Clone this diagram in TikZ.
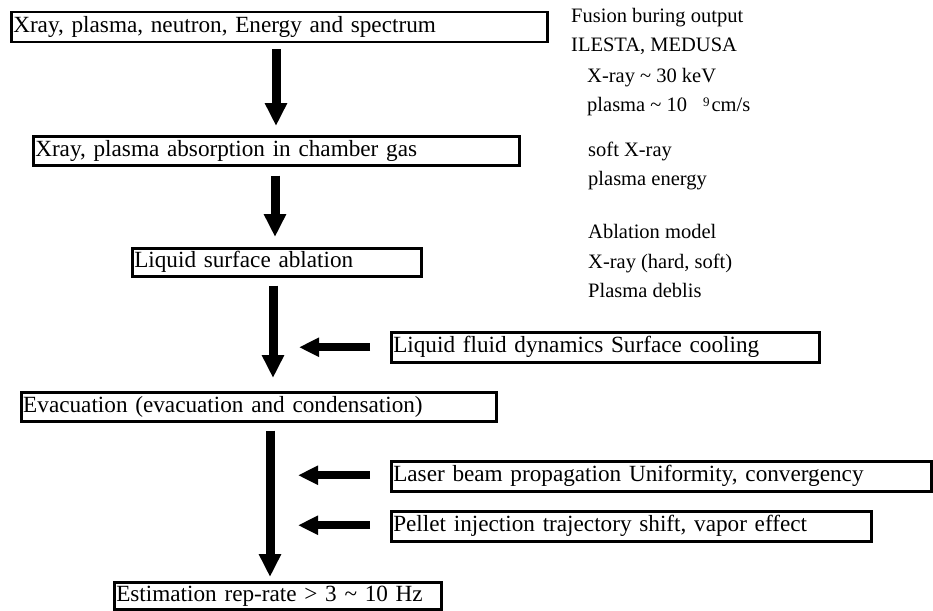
\documentclass[tikz,border=0pt]{standalone}
\usepackage{fontspec}
\setmainfont{Liberation Serif}
\usetikzlibrary{arrows.meta}

\begin{document}
\begin{tikzpicture}[x=1pt,y=-1pt,
    stagebox/.style={draw,line width=2.5pt,anchor=north west,inner xsep=2pt,inner ysep=0pt,
      align=left,font=\fontsize{23.2}{28}\selectfont},
    note/.style={anchor=base west,inner sep=0pt,font=\fontsize{20.5}{24}\selectfont},
    downarrow/.style={line width=9pt,-{Triangle[width=21pt,length=23pt]}},
    sidearrow/.style={line width=8pt,-{Triangle[width=18pt,length=20pt]}}]
      \useasboundingbox (0,0) rectangle (933,610);
      % main chain
      \node[stagebox,text width=532pt,minimum height=30pt] (burn) at (10,11) {Xray, plasma, neutron, Energy and spectrum};
      \node[stagebox,text width=482pt,minimum height=29pt] (absorb) at (32,135) {Xray, plasma absorption in chamber gas};
      \node[stagebox,text width=285pt,minimum height=28pt] (ablate) at (131,247) {Liquid surface ablation};
      \node[stagebox,text width=471pt,minimum height=29pt] (evac) at (20,391) {Evacuation (evacuation and condensation)};
      \node[stagebox,text width=323pt,minimum height=27pt] (rate) at (113,581) {Estimation rep-rate > 3 \textasciitilde{} 10 Hz};
      % side inputs
      \node[stagebox,text width=424pt,minimum height=30pt] (fluid) at (390,331) {Liquid fluid dynamics Surface cooling};
      \node[stagebox,text width=536pt,minimum height=30pt] (laser) at (390,460) {Laser beam propagation Uniformity, convergency};
      \node[stagebox,text width=476pt,minimum height=30pt] (pellet) at (390,510) {Pellet injection trajectory shift, vapor effect};

      \coordinate (trunkA) at (276,0);
      \coordinate (trunkB) at (275,0);
      \coordinate (trunkC) at (273,0);
      \coordinate (trunkD) at (270,0);
      \draw[downarrow] ([yshift=-6pt]burn.south -| trunkA) -- ([yshift=9pt]absorb.north -| trunkA);
      \draw[downarrow] ([yshift=-9pt]absorb.south -| trunkB) -- ([yshift=10pt]ablate.north -| trunkB);
      \draw[downarrow] ([yshift=-8pt]ablate.south -| trunkC) -- ([yshift=13pt]evac.north -| trunkC);
      \draw[downarrow] ([yshift=-8pt]evac.south -| trunkD) -- ([yshift=4pt]rate.north -| trunkD);
      \draw[sidearrow] ([xshift=-20pt]fluid.west) -- ([xshift=26pt]fluid.west -| trunkC);
      \draw[sidearrow] ([xshift=-20pt,yshift=1pt]laser.west) -- ([xshift=28pt,yshift=1pt]laser.west -| trunkD);
      \draw[sidearrow] ([xshift=-20pt,yshift=1pt]pellet.west) -- ([xshift=28pt,yshift=1pt]pellet.west -| trunkD);

      % notes on the right
      \node[note] (codes1) at (571,23) {Fusion buring output};
      \node[note] (codes2) at (571,52) {ILESTA, MEDUSA};
      \node[note] (codes3) at (587,82) {X-ray \textasciitilde{} 30 keV};
      \node[note] (codes4) at (587,111) {plasma \textasciitilde{} 10\hspace{16pt}\raisebox{5pt}{\fontsize{13}{13}\selectfont 9}\hspace{2pt}cm/s};
      \node[note] (gas1) at (588,156) {soft X-ray};
      \node[note] (gas2) at (588,185) {plasma energy};
      \node[note] (abl1) at (588,238) {Ablation model};
      \node[note] (abl2) at (588,268) {X-ray (hard, soft)};
      \node[note] (abl3) at (588,297) {Plasma deblis};
\end{tikzpicture}
\end{document}
